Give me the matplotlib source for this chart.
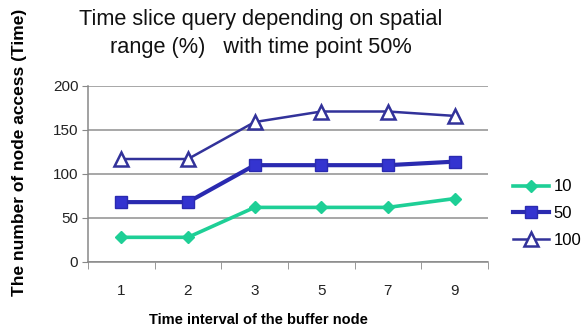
import matplotlib
matplotlib.use("Agg")
import matplotlib.pyplot as plt
import numpy as np

categories = ["1", "2", "3", "5", "7", "9"]
range_10 = [28, 28, 62, 62, 62, 72]
range_50 = [68, 68, 110, 110, 110, 114]
range_100 = [117, 117, 159, 171, 171, 166]
series_labels = ["10", "50", "100"]
y_ticks = [0, 50, 100, 150, 200]

plt.rcParams["font.family"] = ["Liberation Sans", "DejaVu Sans"]

fig = plt.figure(figsize=(5.88, 3.32), dpi=100)
ax = fig.add_axes([0.1497, 0.211, 0.680, 0.530])

x = np.arange(len(categories))
ax.plot(x, range_10, color="#1ecf96", lw=2.6, marker="D", ms=6,
        mfc="#1ecf96", mec="#1ecf96", label=series_labels[0], zorder=3)
ax.plot(x, range_50, color="#2a2ab0", lw=3.0, marker="s", ms=8.5,
        mfc="#3434d0", mec="#2a2ab0", label=series_labels[1], zorder=3)
ax.plot(x, range_100, color="#32329a", lw=1.8, marker="^", ms=9.5,
        mfc="white", mec="#32329a", mew=1.8, label=series_labels[2], zorder=3)

ax.set_xlim(-0.5, len(categories) - 0.5)
ax.set_ylim(0, 200)
ax.set_yticks(y_ticks)
ax.set_xticks(x)
ax.set_xticklabels(categories)
ax.set_xticks(np.arange(-0.5, len(categories)), minor=True)
ax.tick_params(axis="x", which="major", length=0, pad=16, labelsize=11, colors="#222222")
ax.tick_params(axis="x", which="minor", length=5, color="#888888", direction="out")
ax.tick_params(axis="y", length=4, color="#888888", labelsize=11, labelcolor="#222222", pad=3)

ax.yaxis.grid(True, color="#909090", lw=1.1)
ax.set_axisbelow(True)
for side in ["top", "right"]:
    ax.spines[side].set_visible(False)
ax.spines["left"].set_color("#888888")
ax.spines["bottom"].set_color("#888888")
ax.spines["left"].set_linewidth(1.1)
ax.spines["bottom"].set_linewidth(1.1)

fig.text(0.443, 1 - 20 / 332, "Time slice query depending on spatial",
         ha="center", va="center", fontsize=15.7, color="#111111")
fig.text(0.443, 1 - 48 / 332, "range (%)   with time point 50%",
         ha="center", va="center", fontsize=15.7, color="#111111")
fig.text(0.439, 1 - 320 / 332, "Time interval of the buffer node",
         ha="center", va="center", fontsize=10.5, fontweight="bold")
fig.text(0.034, 1 - 152 / 332, "The number of node access (Time)", rotation=90, ha="center",
         va="center", fontsize=12.5, fontweight="bold")

leg = ax.legend(loc="center left", bbox_to_anchor=(1.045, 0.275), frameon=False,
                fontsize=12, handlelength=2.2, handletextpad=0.25, labelspacing=0.7,
                borderaxespad=0)

fig.savefig("out.png", dpi=100)
